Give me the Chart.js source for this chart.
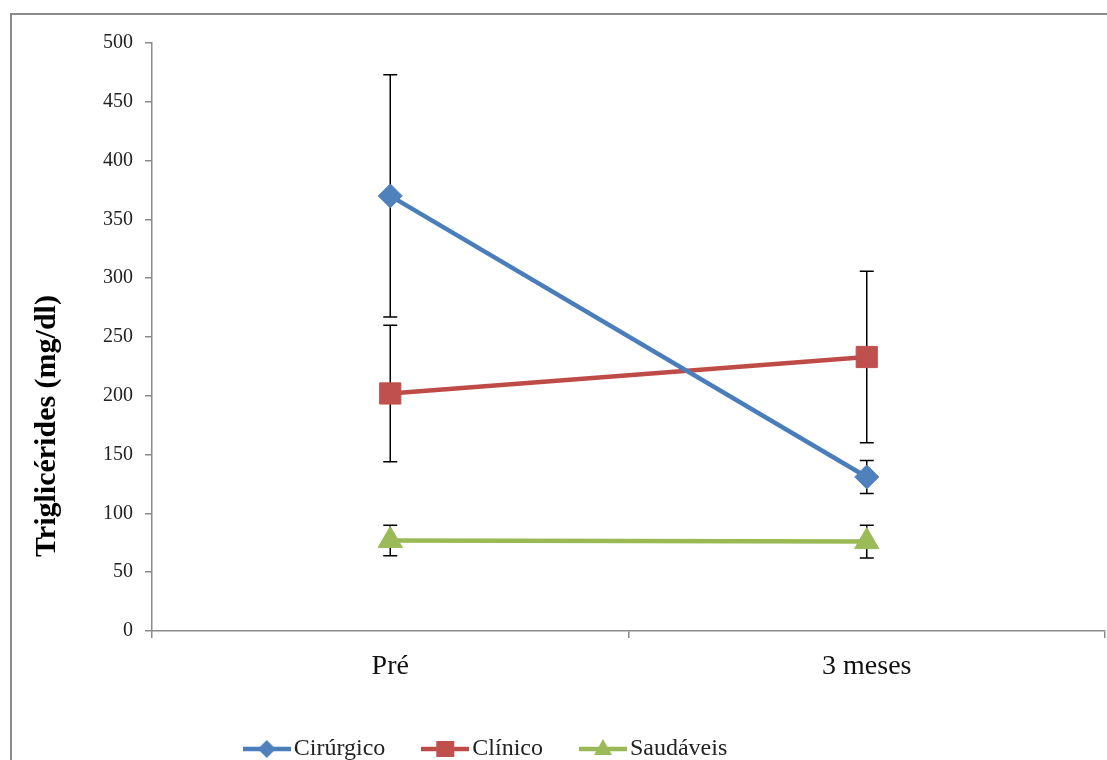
<!DOCTYPE html>
<html>
<head>
<meta charset="utf-8">
<script src="https://cdn.jsdelivr.net/npm/chart.js@4/dist/chart.umd.min.js"></script>
<style>
  html, body { margin: 0; padding: 0; background: #fff; overflow: hidden; }
  #wrap { width: 1107px; height: 760px; position: relative; }
  canvas { display: block; }
</style>
</head>
<body>
<div id="wrap"><canvas id="chart" width="1107" height="760"></canvas></div>
<script>
// Time points and group means (mg/dl) with their standard deviations
const categories = ['Pré', '3 meses'];
const seriesNames = ['Cirúrgico', 'Clínico', 'Saudáveis'];
const cirurgico = [370, 131];
const cirurgicoErr = [103, 14];
const clinico = [202, 233];
const clinicoErr = [58, 73];
const saudaveis = [77, 76];
const saudaveisErr = [13, 14];
const yMin = 0;
const yMax = 500;
const yStep = 50;
const yTitle = 'Triglicérides (mg/dl)';

const FONT = '"Liberation Serif", "Times New Roman", serif';
const colors = {
  line: ['#4A7EBB', '#BE4B48', '#98B954'],
  marker: ['#4F81BD', '#C0504D', '#9BBB59']
};
const shapes = ['rectRot', 'rect', 'triangle'];

// Small "line + marker" swatch used as the legend symbol
function swatch(lineColor, fill, shape) {
  const c = document.createElement('canvas');
  c.width = 48; c.height = 24;
  const g = c.getContext('2d');
  g.strokeStyle = lineColor; g.lineWidth = 4.5;
  g.beginPath(); g.moveTo(0, 12); g.lineTo(48, 12); g.stroke();
  g.fillStyle = fill;
  g.beginPath();
  if (shape === 'rectRot') {
    g.moveTo(24, 3); g.lineTo(33, 12); g.lineTo(24, 21); g.lineTo(15, 12);
  } else if (shape === 'rect') {
    g.rect(15, 4, 18, 16);
  } else {
    g.moveTo(24, 2); g.lineTo(33, 18); g.lineTo(15, 18);
  }
  g.closePath(); g.fill();
  return c;
}
const swatches = shapes.map((s, i) => swatch(colors.line[i], colors.marker[i], s));

// Vertical error bars with caps, drawn under the series
const errorBars = {
  id: 'errorBars',
  beforeDatasetsDraw(chart) {
    const ctx = chart.ctx;
    const y = chart.scales.y;
    ctx.save();
    ctx.strokeStyle = '#000';
    ctx.lineWidth = 1.5;
    chart.data.datasets.forEach((ds, di) => {
      const meta = chart.getDatasetMeta(di);
      ds.data.forEach((v, i) => {
        const e = ds.errors[i];
        const x = meta.data[i].x;
        const top = y.getPixelForValue(v + e);
        const bot = y.getPixelForValue(v - e);
        ctx.beginPath();
        ctx.moveTo(x, top); ctx.lineTo(x, bot);
        ctx.moveTo(x - 7, top); ctx.lineTo(x + 7, top);
        ctx.moveTo(x - 7, bot); ctx.lineTo(x + 7, bot);
        ctx.stroke();
      });
    });
    ctx.restore();
  }
};

// Chart frame and rotated y-axis title
const frame = {
  id: 'frame',
  beforeDraw(chart) {
    const ctx = chart.ctx;
    ctx.save();
    ctx.fillStyle = '#fff';
    ctx.fillRect(0, 0, chart.width, chart.height);
    ctx.strokeStyle = '#8a8a8a';
    ctx.lineWidth = 2;
    ctx.strokeRect(11, 14, 1200, 1000);
    ctx.restore();
  },
  afterDraw(chart) {
    const ctx = chart.ctx;
    ctx.save();
    ctx.translate(47, 426);
    ctx.rotate(-Math.PI / 2);
    ctx.font = 'bold 30px ' + FONT;
    ctx.fillStyle = '#000';
    ctx.textAlign = 'center';
    ctx.textBaseline = 'middle';
    ctx.fillText(yTitle, 0, 0);
    ctx.restore();
  }
};

// Legend sits a little left of centre and near the bottom edge
const legendPlacement = {
  id: 'legendPlacement',
  afterLayout(chart) {
    const lg = chart.legend;
    const dx = -73;
    lg.left += dx; lg.right += dx;
    const h = lg.height;
    lg.top = 749 - 45 - 12;
    lg.bottom = lg.top + h;
  }
};

const series = [
  { data: cirurgico, errors: cirurgicoErr, r: 12 },
  { data: clinico, errors: clinicoErr, r: 15 },
  { data: saudaveis, errors: saudaveisErr, r: 14 }
];

new Chart(document.getElementById('chart'), {
  type: 'line',
  data: {
    labels: categories,
    datasets: series.map((s, i) => ({
      label: seriesNames[i],
      data: s.data,
      errors: s.errors,
      borderColor: colors.line[i],
      backgroundColor: colors.marker[i],
      borderWidth: 4.5,
      tension: 0,
      pointStyle: shapes[i],
      pointRadius: s.r,
      pointHoverRadius: s.r,
      pointBackgroundColor: colors.marker[i],
      pointBorderColor: colors.marker[i],
      pointBorderWidth: 1,
      clip: false
    }))
  },
  plugins: [frame, errorBars, legendPlacement],
  options: {
    responsive: false,
    animation: false,
    events: [],
    layout: { autoPadding: false, padding: { left: 20, top: 43, right: 2, bottom: 0 } },
    plugins: {
      tooltip: { enabled: false },
      legend: {
        position: 'bottom',
        labels: {
          usePointStyle: true,
          pointStyleWidth: 30,
          padding: 45,
          color: '#222',
          font: { family: FONT, size: 24 },
          generateLabels(chart) {
            const items = Chart.defaults.plugins.legend.labels.generateLabels(chart);
            items.forEach((it, i) => { it.pointStyle = swatches[i]; });
            return items;
          }
        }
      }
    },
    scales: {
      x: {
        type: 'category',
        offset: true,
        grid: {
          offset: true,
          drawOnChartArea: false,
          drawTicks: true,
          tickLength: 7,
          color: '#8a8a8a',
          lineWidth: 1.5
        },
        border: { display: true, color: '#8a8a8a', width: 1.5 },
        ticks: {
          color: '#111',
          padding: 12,
          font: { family: FONT, size: 28 }
        },
        afterFit(s) { s.height = 760 - 631 - s.chart.legend.height; }
      },
      y: {
        min: yMin,
        max: yMax,
        grid: {
          drawOnChartArea: false,
          drawTicks: true,
          tickLength: 7,
          color: '#8a8a8a',
          lineWidth: 1.5
        },
        border: { display: true, color: '#8a8a8a', width: 1.5 },
        ticks: {
          stepSize: yStep,
          color: '#222',
          padding: 12,
          font: { family: FONT, size: 20 }
        },
        afterFit(s) { s.width = 132; }
      }
    }
  }
});
</script>
</body>
</html>
